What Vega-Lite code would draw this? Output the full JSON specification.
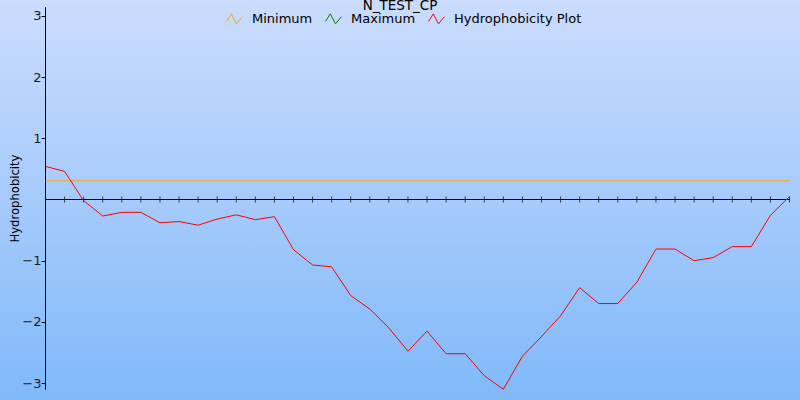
{
  "$schema": "https://vega.github.io/schema/vega-lite/v6.json",
  "width": 800,
  "height": 400,
  "autosize": {"type": "none"},
  "padding": 0,
  "background": "#a6c8fb",
  "config": {
    "font": "DejaVu Sans",
    "view": {
      "stroke": null,
      "fill": {"gradient": "linear", "x1": 0, "y1": 0, "x2": 0, "y2": 1,
        "stops": [{"offset": 0, "color": "#cbdcfd"}, {"offset": 1, "color": "#80b9f9"}]}
    }
  },
  "title": {
    "text": "N_TEST_CP",
    "font": "DejaVu Sans",
    "fontSize": 13.5,
    "fontWeight": "normal",
    "color": "#000000",
    "anchor": "middle",
    "frame": "group",
    "baseline": "top",
    "offset": 0,
    "dy": 12.5
  },
  "data": {
    "values": [
      {"x": 0, "y": 0.305, "series": "Minimum"},
      {"x": 39, "y": 0.305, "series": "Minimum"},
      {"x": 0, "y": 0.54, "series": "Hydrophobicity Plot"},
      {"x": 1, "y": 0.46, "series": "Hydrophobicity Plot"},
      {"x": 2, "y": -0.02, "series": "Hydrophobicity Plot"},
      {"x": 3, "y": -0.27, "series": "Hydrophobicity Plot"},
      {"x": 4, "y": -0.21, "series": "Hydrophobicity Plot"},
      {"x": 5, "y": -0.21, "series": "Hydrophobicity Plot"},
      {"x": 6, "y": -0.38, "series": "Hydrophobicity Plot"},
      {"x": 7, "y": -0.36, "series": "Hydrophobicity Plot"},
      {"x": 8, "y": -0.42, "series": "Hydrophobicity Plot"},
      {"x": 9, "y": -0.32, "series": "Hydrophobicity Plot"},
      {"x": 10, "y": -0.25, "series": "Hydrophobicity Plot"},
      {"x": 11, "y": -0.33, "series": "Hydrophobicity Plot"},
      {"x": 12, "y": -0.28, "series": "Hydrophobicity Plot"},
      {"x": 13, "y": -0.82, "series": "Hydrophobicity Plot"},
      {"x": 14, "y": -1.07, "series": "Hydrophobicity Plot"},
      {"x": 15, "y": -1.10, "series": "Hydrophobicity Plot"},
      {"x": 16, "y": -1.57, "series": "Hydrophobicity Plot"},
      {"x": 17, "y": -1.79, "series": "Hydrophobicity Plot"},
      {"x": 18, "y": -2.10, "series": "Hydrophobicity Plot"},
      {"x": 19, "y": -2.48, "series": "Hydrophobicity Plot"},
      {"x": 20, "y": -2.15, "series": "Hydrophobicity Plot"},
      {"x": 21, "y": -2.52, "series": "Hydrophobicity Plot"},
      {"x": 22, "y": -2.52, "series": "Hydrophobicity Plot"},
      {"x": 23, "y": -2.88, "series": "Hydrophobicity Plot"},
      {"x": 24, "y": -3.10, "series": "Hydrophobicity Plot"},
      {"x": 25, "y": -2.56, "series": "Hydrophobicity Plot"},
      {"x": 26, "y": -2.24, "series": "Hydrophobicity Plot"},
      {"x": 27, "y": -1.90, "series": "Hydrophobicity Plot"},
      {"x": 28, "y": -1.44, "series": "Hydrophobicity Plot"},
      {"x": 29, "y": -1.70, "series": "Hydrophobicity Plot"},
      {"x": 30, "y": -1.70, "series": "Hydrophobicity Plot"},
      {"x": 31, "y": -1.35, "series": "Hydrophobicity Plot"},
      {"x": 32, "y": -0.81, "series": "Hydrophobicity Plot"},
      {"x": 33, "y": -0.81, "series": "Hydrophobicity Plot"},
      {"x": 34, "y": -1.00, "series": "Hydrophobicity Plot"},
      {"x": 35, "y": -0.95, "series": "Hydrophobicity Plot"},
      {"x": 36, "y": -0.77, "series": "Hydrophobicity Plot"},
      {"x": 37, "y": -0.77, "series": "Hydrophobicity Plot"},
      {"x": 38, "y": -0.26, "series": "Hydrophobicity Plot"},
      {"x": 39, "y": 0.05, "series": "Hydrophobicity Plot"}
    ]
  },
  "encoding": {
    "x": {"field": "x", "type": "quantitative",
      "scale": {"domain": [0, 39], "range": [45.5, 789.5], "nice": false, "zero": false},
      "axis": null}
  },
  "layer": [
    {
      "transform": [{"filter": "datum.series === 'Hydrophobicity Plot'"}],
      "mark": {"type": "tick", "orient": "vertical", "size": 6, "thickness": 1, "color": "#000000"},
      "encoding": {"y": {"datum": 0, "type": "quantitative"}}
    },
    {
      "mark": {"type": "rule", "color": "#000000", "strokeWidth": 1},
      "encoding": {
        "x": {"datum": 0, "type": "quantitative"},
        "x2": {"datum": 39},
        "y": {"datum": 0, "type": "quantitative"}
      }
    },
    {
      "mark": {"type": "line", "strokeWidth": 1, "interpolate": "linear"},
      "encoding": {
        "y": {"field": "y", "type": "quantitative",
          "scale": {"domain": [-3.1, 3.15], "range": [389.22, 6.72], "nice": false, "zero": false},
          "axis": {
            "title": "Hydrophobicity",
            "orient": "left",
            "offset": -45,
            "values": [-3, -2, -1, 1, 2, 3],
            "format": "d",
            "grid": false,
            "domainColor": "#000000",
            "tickColor": "#000000",
            "tickSize": 4,
            "labelPadding": 0,
            "labelFont": "DejaVu Sans",
            "labelFontSize": 13,
            "labelColor": "#1a1a1a",
            "titleFont": "DejaVu Sans",
            "titleFontSize": 11.6,
            "titleFontWeight": "normal",
            "titleColor": "#000000",
            "titleX": -30,
            "titleY": 198,
            "titleAngle": -90,
            "titleBaseline": "middle",
            "titleAlign": "center"
          }
        },
        "color": {
          "field": "series", "type": "nominal",
          "scale": {"domain": ["Minimum", "Maximum", "Hydrophobicity Plot"],
            "range": ["#ffa500", "#008000", "#ff0000"]},
          "legend": {
            "title": null,
            "orient": "none",
            "direction": "horizontal",
            "legendX": 226,
            "legendY": 10,
            "padding": 0,
            "symbolType": "M-1,0.35L-0.4,-0.6L0.25,0.65L1,-0.25",
            "symbolSize": 256,
            "symbolStrokeWidth": 1,
            "symbolFillColor": "transparent",
            "labelFont": "DejaVu Sans",
            "labelFontSize": 13,
            "labelColor": "#000000",
            "labelOffset": 9,
            "columnPadding": 10
          }
        }
      }
    }
  ]
}
